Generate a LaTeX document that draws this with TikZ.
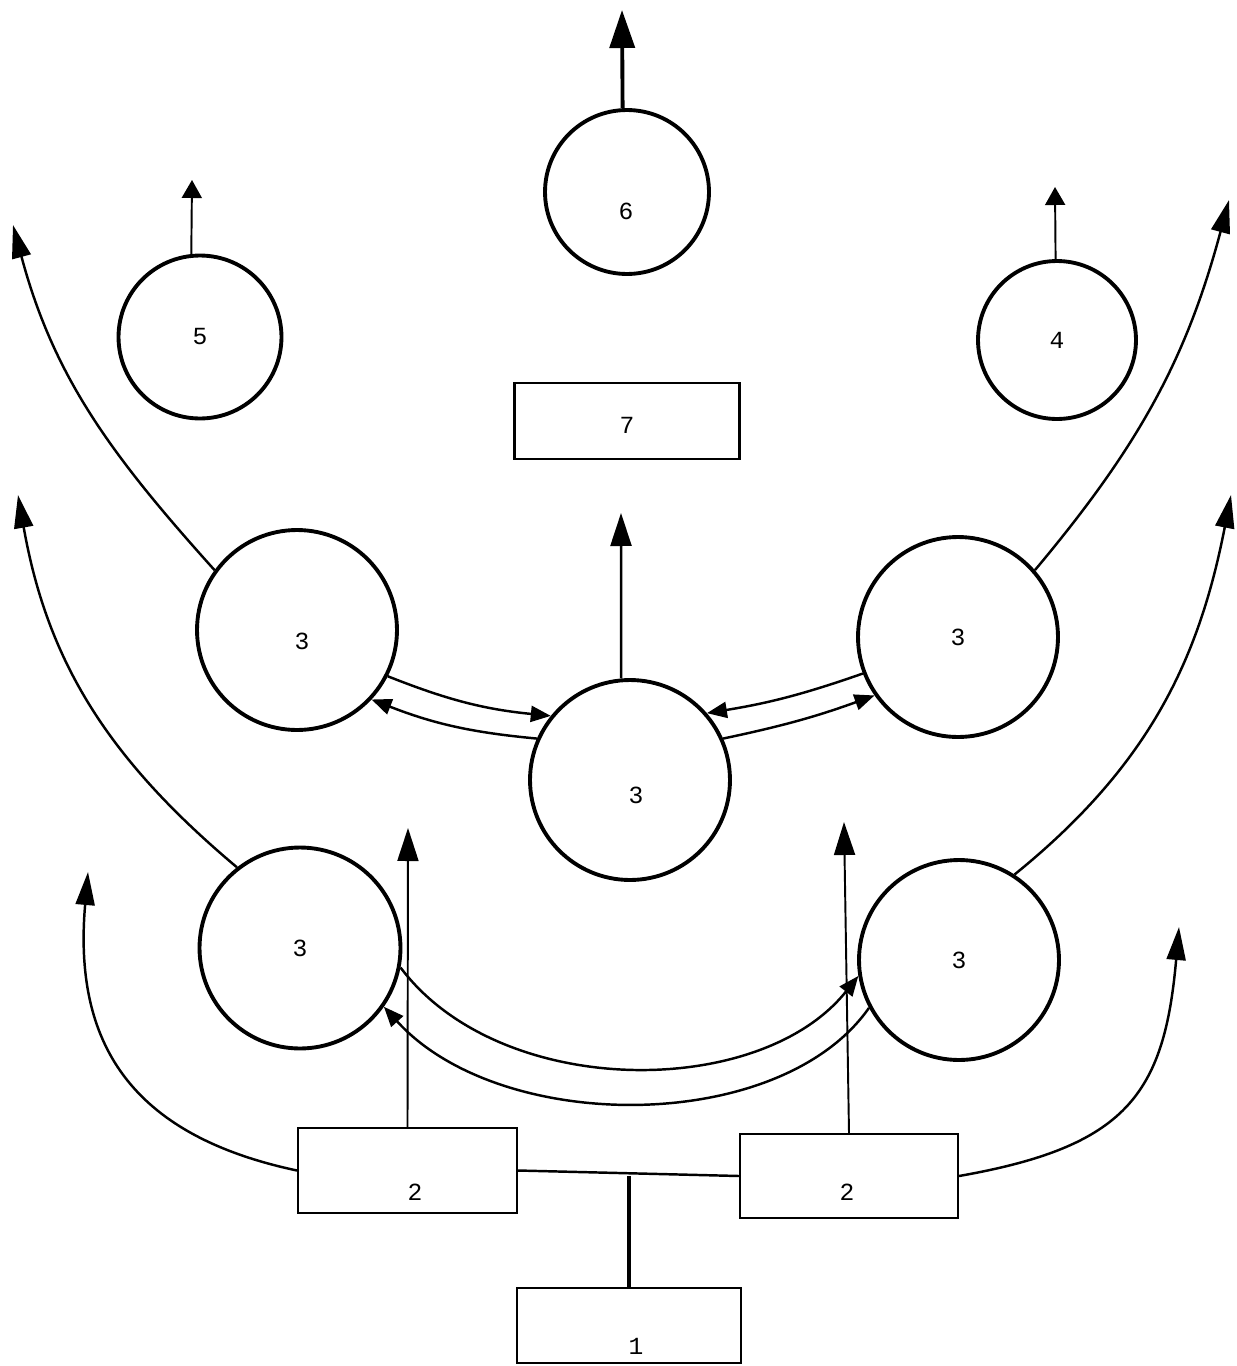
\documentclass[tikz,border=0pt]{standalone}
\usepackage{fontspec}
\setmonofont{Liberation Mono}
\usetikzlibrary{arrows.meta}
\newcommand\lblfont{\ttfamily\fontsize{14}{16}\selectfont}
\begin{document}
\begin{tikzpicture}[x=0.02cm,y=-0.02cm,
  circ/.style={circle,draw,line width=2.2pt,inner sep=0pt,font=\lblfont},
  box/.style={rectangle,draw,line width=1.2pt,inner sep=0pt},
  lbl/.style={font=\lblfont,inner sep=0pt},
  conn/.style={line width=1.4pt},
  thinconn/.style={line width=1.1pt},
  bighead/.style={-{Triangle[length=0.76cm,width=0.5cm]}},
  midhead/.style={-{Triangle[length=0.66cm,width=0.42cm]}},
  curvehead/.style={-{Triangle[length=0.66cm,width=0.38cm]}},
  smallhead/.style={-{Triangle[length=0.36cm,width=0.4cm]}},
  dblhead/.style={-{Triangle[length=0.4cm,width=0.32cm]}}]
\useasboundingbox (0,0) rectangle (1237,1366);

% circles
\node[circ,minimum size=3.28cm] (C6) at (627,192) {};
\node[lbl] (T6) at (626,211) {6};
\node[circ,minimum size=3.26cm] (C5) at (200,337) {5};
\node[circ,minimum size=3.16cm] (C4) at (1057,340) {4};
\node[circ,minimum size=4cm] (A) at (297,630) {};
\node[lbl] (TA) at (302,641) {3};
\node[circ,minimum size=4cm] (M) at (630,780) {};
\node[lbl] (TM) at (636,795) {3};
\node[circ,minimum size=4cm] (B) at (958,637) {3};
\node[circ,minimum size=4.02cm] (C) at (300,948) {3};
\node[circ,minimum size=4cm] (D) at (959,960) {3};

% boxes
\node[box,minimum width=4.5cm,minimum height=1.52cm] (B7) at (627,421) {};
\node[lbl] (T7) at (627,425) {7};
\node[box,minimum width=4.38cm,minimum height=1.7cm] (B2L) at (407.5,1170.5) {};
\node[lbl] (T2L) at (415,1192) {2};
\node[box,minimum width=4.36cm,minimum height=1.68cm] (B2R) at (849,1176) {};
\node[lbl] (T2R) at (847,1192) {2};
\node[box,minimum width=4.48cm,minimum height=1.5cm] (B1) at (629,1325.5) {};
\node[lbl] (T1) at (636,1346) {1};

% free ends
\coordinate (t6) at (622,10);
\coordinate (t5) at (192,180);
\coordinate (t4) at (1055,187);
\coordinate (tM) at (621,513);
\coordinate (tBL) at (408,828);
\coordinate (tBR) at (844,822);
\coordinate (tE1) at (13,225);
\coordinate (tE2) at (18,495);
\coordinate (tE3) at (1229,200);
\coordinate (tE4) at (1231,495);
\coordinate (tL) at (88,872);
\coordinate (tR) at (1179,927);

% vertical output arrows
\draw[line width=2.2pt,bighead] (C6.93.5) -- (t6);
\draw[thinconn,smallhead] (C5.96) -- (t5);
\draw[thinconn,smallhead] (C4.91) -- (t4);
\draw[conn,midhead] (M.95) -- (tM);
\draw[thinconn,midhead] (B2L.north) -- (tBL);
\draw[thinconn,midhead] (B2R.north) -- (tBR);

% outer curved arrows
\draw[conn,curvehead] (A.144) to[out=132,in=-75] (tE1);
\draw[conn,curvehead] (C.128) to[out=140,in=-80] (tE2);
\draw[conn,curvehead] (B.41) to[out=50,in=-105] (tE3);
\draw[conn,curvehead] (D.57) to[out=39,in=-101] (tE4);
\draw[conn,curvehead] (B2L.west) to[out=168,in=-95,looseness=1.2] (tL);
\draw[conn,curvehead] (B2R.east) to[out=10,in=-95,looseness=1.3] (tR);

% double connectors between circles 3
\draw[conn,dblhead] (A.-27) to[bend right=8] (M.141);
\draw[conn,dblhead] (M.156) to[bend left=8] (A.-43);
\draw[conn,dblhead] (B.-159) to[bend left=5] (M.41);
\draw[conn,dblhead] (M.24.5) to[bend right=4] (B.-145);
\draw[conn,dblhead] (C.-11.5) .. controls (500,1100) and (760,1100) .. (D.189);
\draw[conn,dblhead] (D.-152) .. controls (780,1135) and (500,1135) .. (C.-35.5);

% feed lines
\draw[conn] (B2L.east) -- (B2R.west);
\draw[line width=2.8pt] (B1.north) -- (B1.north |- B2R.west);
\end{tikzpicture}
\end{document}
